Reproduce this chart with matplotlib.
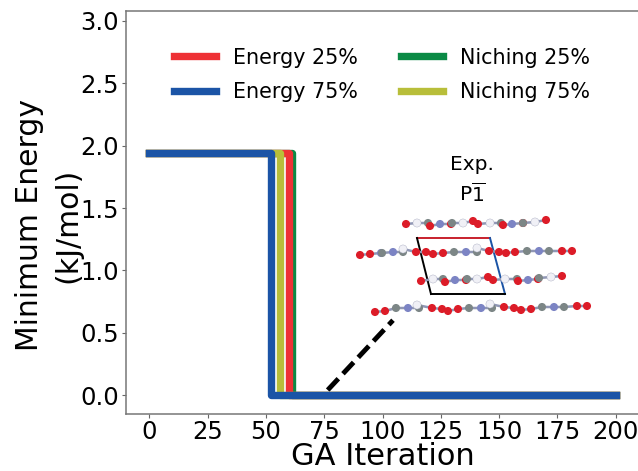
import matplotlib
matplotlib.use("Agg")
import matplotlib.pyplot as plt

W, H = 638, 471

# --- Data ---
energy_25_iter = [0, 60, 60, 200]
energy_75_iter = [0, 52, 52, 200]
niching_25_iter = [0, 61, 61, 200]
niching_75_iter = [0, 56, 56, 200]
min_energy = [1.94, 1.94, 0.0, 0.0]
x_ticks = [0, 25, 50, 75, 100, 125, 150, 175, 200]
y_ticks = [0.0, 0.5, 1.0, 1.5, 2.0, 2.5, 3.0]
pointer_x = [76.5, 104.5]
pointer_y = [0.04, 0.6]

# crystal picture, in reference pixels (R red, B slate, G gray, W white)
row1_x = [406, 417, 428, 430, 440, 451, 452, 463, 473, 478, 490, 501, 503, 512, 523, 523, 535, 546]
row1_y = [224, 223, 223, 226, 224, 224, 223, 223, 221, 224, 223, 223, 225, 224, 223, 223, 222, 220]
row1_c = "RWGRBRGWRRWGRBRGWR"
row2_x = [360, 370, 381, 382, 393, 403, 403, 416, 426, 433, 443, 454, 466, 477, 477, 489, 499, 506, 515, 527, 539, 549, 562, 572]
row2_y = [255, 254, 253, 253, 252, 252, 249, 252, 252, 254, 253, 252, 252, 252, 248, 251, 252, 253, 252, 251, 251, 251, 251, 251]
row2_c = "RRBGBGWRRRRGBGWRRRRGBGRR"
row3_x = [421, 433, 443, 445, 455, 466, 467, 477, 488, 493, 505, 517, 518, 528, 538, 539, 551, 562]
row3_y = [281, 279, 279, 282, 280, 280, 279, 279, 277, 280, 279, 279, 281, 280, 279, 278, 277, 276]
row3_c = "RWGRBRGWRRWGRBRGWR"
row4_x = [375, 385, 396, 408, 419, 417, 432, 442, 448, 458, 469, 481, 492, 490, 504, 514, 521, 531, 542, 554, 564, 577, 587]
row4_y = [312, 311, 308, 308, 308, 305, 308, 309, 311, 309, 308, 308, 308, 304, 307, 308, 310, 309, 307, 307, 307, 306, 306]
row4_c = "RRGBGWRRRRGBGWRRRRGBGRR"
cell_x = [417, 490, 505, 431, 417]
cell_y = [238, 238, 294, 294, 238]

atom_colors = {"R": "#dc1c28", "B": "#7c84c4", "G": "#7c8686", "W": "#f0f0f6"}

fig = plt.figure(figsize=(W / 100, H / 100), dpi=100)
ax = fig.add_axes([126 / W, 1 - 414 / H, 513 / W, 403 / H])

line_kw = dict(lw=5.3, solid_capstyle="projecting", solid_joinstyle="round")
l_n25, = ax.plot(niching_25_iter, min_energy, color="#0a8a45", label="Niching 25%", **line_kw)
l_e25, = ax.plot(energy_25_iter, min_energy, color="#ee3135", label="Energy 25%", **line_kw)
l_n75, = ax.plot(niching_75_iter, min_energy, color="#b8be3a", label="Niching 75%", **line_kw)
l_e75, = ax.plot(energy_75_iter, min_energy, color="#1b54a6", label="Energy 75%", **line_kw)

ax.plot(pointer_x, pointer_y, color="black", lw=3.5, dashes=(3.2, 1.4), zorder=1)

ax.set_xlim(-10, 210)
ax.set_ylim(-0.152, 3.08)
ax.set_xticks(x_ticks)
ax.set_yticks(y_ticks)
ax.tick_params(labelsize=17.5, color="#666666", length=3, width=0.8, pad=2)
ax.tick_params(axis="x", pad=1)
for spine in ax.spines.values():
    spine.set_color("#777777")
    spine.set_linewidth(1.1)
ax.set_xlabel("GA Iteration", fontsize=22, labelpad=-1)
ax.set_ylabel("Minimum Energy\n(kJ/mol)", fontsize=21.5, linespacing=1.4)
ax.yaxis.set_label_coords(-0.085, 0.469)

ax.legend(
    handles=[l_e25, l_e75, l_n25, l_n75],
    ncols=2,
    frameon=False,
    fontsize=14.9,
    loc="upper left",
    bbox_to_anchor=(0.074, 0.935),
    handlelength=2.03,
    handletextpad=0.82,
    columnspacing=2.05,
    labelspacing=0.72,
    borderpad=0,
)

# overlay in pixel coordinates for the crystal packing picture
over = fig.add_axes([0, 0, 1, 1], facecolor="none")
over.set_xlim(0, W)
over.set_ylim(H, 0)
over.axis("off")

over.plot(cell_x[:2], cell_y[:2], color="#c8202c", lw=1.4, zorder=1)
over.plot(cell_x[1:3], cell_y[1:3], color="#1b54a6", lw=1.4, zorder=1)
over.plot(cell_x[2:4], cell_y[2:4], color="black", lw=1.4, zorder=1)
over.plot(cell_x[3:5], cell_y[3:5], color="black", lw=1.4, zorder=1)

for xs, ys, kinds in [(row1_x, row1_y, row1_c), (row2_x, row2_y, row2_c),
                      (row3_x, row3_y, row3_c), (row4_x, row4_y, row4_c)]:
    over.plot(xs, ys, color="#8f96b4", lw=1.8, zorder=2)
    over.scatter(xs, ys, s=34, c=[atom_colors[k] for k in kinds],
                 edgecolors=["#a8acc0" if k == "W" else "none" for k in kinds],
                 linewidths=0.3, zorder=3)

over.text(472, 164, "Exp.", fontsize=14.5, ha="center", va="center")
over.text(472, 194, r"P$\overline{1}$", fontsize=14.5, ha="center", va="center")

fig.savefig("out.png", dpi=100)
